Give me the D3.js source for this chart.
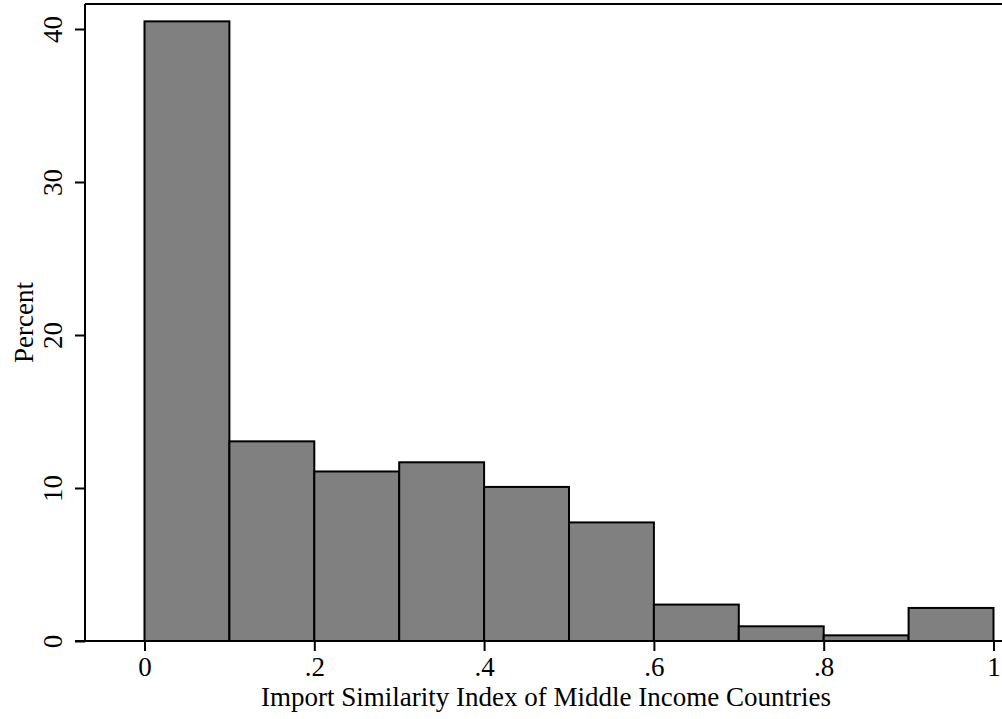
<!DOCTYPE html>
<html>
<head>
<meta charset="utf-8">
<script src="https://cdn.jsdelivr.net/npm/d3@7"></script>
<style>
  html, body { margin: 0; padding: 0; background: #fff; }
  svg { display: block; }
  text { font-family: "Liberation Serif", "Times New Roman", serif; fill: #000; }
</style>
</head>
<body>
<svg id="chart" width="1002" height="719"></svg>
<script>
// Histogram bins (left edges, width 0.1) and percent heights
const binStarts = [0, 0.1, 0.2, 0.3, 0.4, 0.5, 0.6, 0.7, 0.8, 0.9];
const binWidth = 0.1;
const percents = [40.5, 13.05, 11.08, 11.68, 10.07, 7.75, 2.38, 0.96, 0.37, 2.16];
const xTicks = [0, 0.2, 0.4, 0.6, 0.8, 1];
const xTickLabels = ["0", ".2", ".4", ".6", ".8", "1"];
const yTicks = [0, 10, 20, 30, 40];
const yTickLabels = ["0", "10", "20", "30", "40"];
const xTitle = "Import Similarity Index of Middle Income Countries";
const yTitle = "Percent";

const svg = d3.select("#chart");
const plot = { left: 85, top: 4, right: 1002, bottom: 641 };

const x = d3.scaleLinear().domain([0, 1]).range([144.5, 993.5]);
const y = d3.scaleLinear().domain([0, 40]).range([641, 29]);

const fontSize = 27;

// bars
svg.append("g")
  .selectAll("rect")
  .data(binStarts.map((s, i) => ({ s, v: percents[i] })))
  .join("rect")
  .attr("x", d => x(d.s))
  .attr("y", d => y(d.v))
  .attr("width", d => x(d.s + binWidth) - x(d.s))
  .attr("height", d => y(0) - y(d.v))
  .attr("fill", "#808080")
  .attr("stroke", "#000")
  .attr("stroke-width", 2);

// top frame line
svg.append("line")
  .attr("x1", plot.left).attr("x2", plot.right)
  .attr("y1", plot.top).attr("y2", plot.top)
  .attr("stroke", "#000").attr("stroke-width", 2);

// x axis
const xAxis = d3.axisBottom(x)
  .tickValues(xTicks)
  .tickFormat((d, i) => xTickLabels[i])
  .tickSize(10)
  .tickPadding(6);
const gx = svg.append("g")
  .attr("transform", `translate(0,${plot.bottom})`)
  .call(xAxis);
gx.select(".domain").remove();
gx.append("line")
  .attr("x1", plot.left - 10).attr("x2", plot.right)
  .attr("y1", 0).attr("y2", 0)
  .attr("stroke", "#000").attr("stroke-width", 2);
gx.selectAll(".tick line").attr("stroke", "#000").attr("stroke-width", 2);
gx.selectAll(".tick text")
  .attr("font-size", fontSize)
  .attr("font-family", "Liberation Serif")
  .attr("fill", "#000");

// y axis
const yAxis = d3.axisLeft(y)
  .tickValues(yTicks)
  .tickFormat((d, i) => yTickLabels[i])
  .tickSize(10)
  .tickPadding(13);
const gy = svg.append("g")
  .attr("transform", `translate(${plot.left},0)`)
  .call(yAxis);
gy.select(".domain").remove();
gy.append("line")
  .attr("x1", 0).attr("x2", 0)
  .attr("y1", plot.top).attr("y2", plot.bottom)
  .attr("stroke", "#000").attr("stroke-width", 2);
gy.selectAll(".tick line").attr("stroke", "#000").attr("stroke-width", 2);
gy.selectAll(".tick text")
  .attr("font-size", fontSize)
  .attr("font-family", "Liberation Serif")
  .attr("fill", "#000")
  .attr("text-anchor", "middle")
  .attr("dy", null)
  .attr("x", null)
  .attr("transform", "translate(-23,0) rotate(-90)");

// axis titles
svg.append("text")
  .attr("x", 546)
  .attr("y", 706)
  .attr("text-anchor", "middle")
  .attr("font-size", fontSize)
  .text(xTitle);

svg.append("text")
  .attr("transform", `translate(33,${(plot.top + plot.bottom) / 2}) rotate(-90)`)
  .attr("text-anchor", "middle")
  .attr("font-size", fontSize)
  .text(yTitle);
</script>
</body>
</html>
